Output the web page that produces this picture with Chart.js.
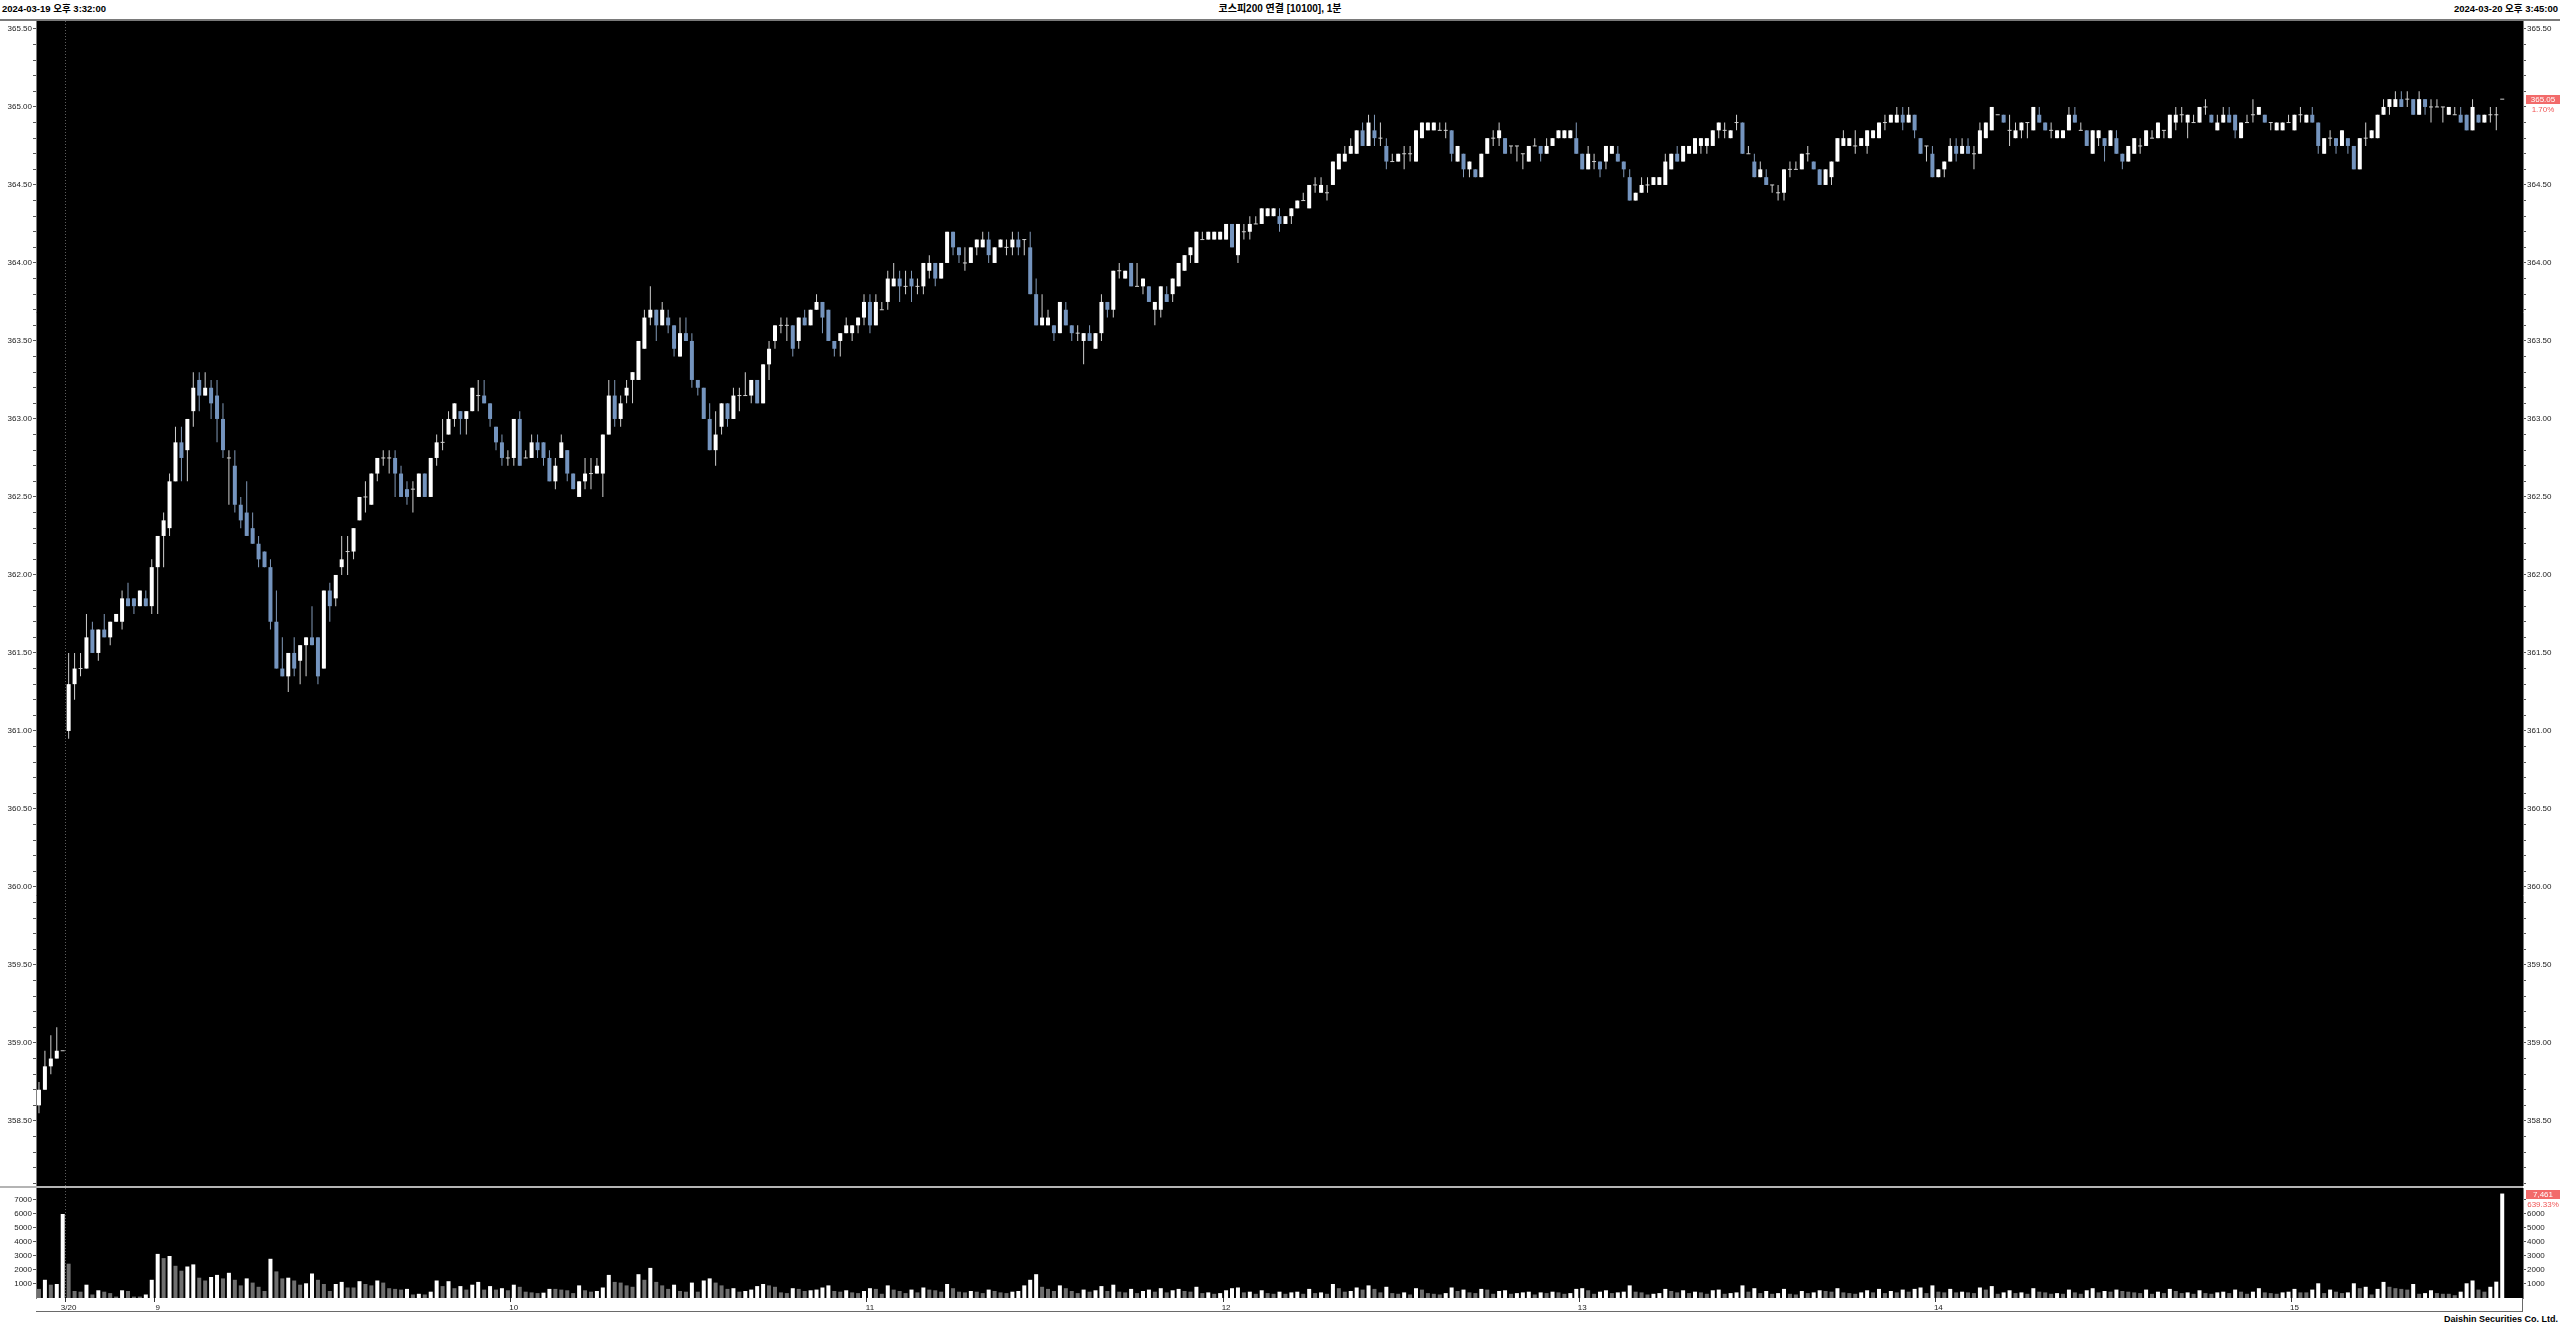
<!DOCTYPE html>
<html lang="ko">
<head>
<meta charset="utf-8">
<title>코스피200 연결 [10100], 1분</title>
<script src="https://cdn.jsdelivr.net/npm/chart.js@4.4.1/dist/chart.umd.min.js"></script>
<style>
    html, body {
        margin: 0;
        padding: 0;
        width: 2560px;
        height: 1328px;
        background: #ffffff;
        overflow: hidden;
        position: relative;
        font-family: "Liberation Sans", "Noto Sans CJK KR", sans-serif;
    }
    .hdr {
        position: absolute;
        top: 3px;
        font-weight: bold;
        font-size: 9.5px;
        line-height: 12px;
        color: #000;
        white-space: nowrap;
    }
    .hdr.left { left: 2px; }
    .hdr.center { left: 0; width: 2560px; text-align: center; font-size: 10px; }
    .hdr.right { right: 2px; }
    #top-line { position: absolute; left: 0; top: 19px; width: 2560px; height: 2px; background: #7a7a7a; }
    #price-chart { position: absolute; left: 0; top: 21px; }
    #pane-sep { position: absolute; left: 0; top: 1186px; width: 2523px; height: 2px; background: #b4b4b4; }
    #volume-chart { position: absolute; left: 0; top: 1188px; }
    #x-box { position: absolute; left: 36px; top: 1298px; width: 2486px; height: 13px;
             border-right: 1px solid #6a6a6a; border-bottom: 1px solid #6a6a6a; pointer-events: none; }
    #footer { position: absolute; right: 2px; top: 1314px; font-weight: bold; font-size: 9px;
              line-height: 11px; color: #000; }
</style>
</head>
<body>
<div class="hdr left">2024-03-19 오후 3:32:00</div>
<div class="hdr center">코스피200 연결 [10100], 1분</div>
<div class="hdr right">2024-03-20 오후 3:45:00</div>
<div id="top-line"></div>
<canvas id="price-chart" width="2560" height="1165"></canvas>
<div id="pane-sep"></div>
<canvas id="volume-chart" width="2560" height="123"></canvas>
<div id="x-box"></div>
<div id="footer">Daishin Securities Co. Ltd.</div>

<script>
// Bars of the previous session (3/19) shown before the 3/20 session
const prevDayTimes = ['3/19 15:31', '3/19 15:32', '3/19 15:33', '3/19 15:34', '3/19 15:45'];

// Hour marks on the time axis
const tickTimes = ['3/20 08:45', '3/20 09:00', '3/20 10:00', '3/20 11:00', '3/20 12:00', '3/20 13:00', '3/20 14:00', '3/20 15:00'];
const tickTexts = ['3/20', '9', '10', '11', '12', '13', '14', '15'];

// Value axis ticks
const volumeTicks = [1000, 2000, 3000, 4000, 5000, 6000, 7000];
const priceTickFirst = 358.1;
const priceTickLast = 365.5;

// 1-minute OHLC
const opens = [
    358.60, 358.70, 358.85, 358.90, 358.95, 361.00, 361.30, 361.40, 361.40, 361.65,
    361.50, 361.65, 361.60, 361.70, 361.70, 361.85, 361.85, 361.80, 361.85, 361.80,
    362.05, 362.25, 362.30, 362.60, 362.85, 362.80, 363.05, 363.25, 363.15, 363.20,
    363.15, 363.00, 362.75, 362.70, 362.45, 362.40, 362.30, 362.20, 362.15, 362.05,
    361.70, 361.40, 361.35, 361.50, 361.45, 361.55, 361.60, 361.60, 361.40, 361.90,
    361.85, 362.05, 362.15, 362.15, 362.35, 362.50, 362.45, 362.65, 362.75, 362.75,
    362.75, 362.65, 362.55, 362.55, 362.50, 362.65, 362.50, 362.75, 362.85, 362.90,
    363.00, 363.05, 363.00, 363.05, 363.15, 363.15, 363.10, 362.95, 362.85, 362.75,
    362.75, 363.00, 362.75, 362.75, 362.85, 362.85, 362.75, 362.60, 362.75, 362.80,
    362.65, 362.50, 362.60, 362.65, 362.65, 362.65, 362.90, 363.15, 363.00, 363.15,
    363.25, 363.25, 363.45, 363.65, 363.70, 363.60, 363.65, 363.60, 363.40, 363.55,
    363.50, 363.25, 363.20, 363.00, 362.80, 362.95, 363.10, 363.00, 363.15, 363.15,
    363.15, 363.25, 363.10, 363.35, 363.50, 363.60, 363.60, 363.60, 363.50, 363.65,
    363.60, 363.70, 363.75, 363.70, 363.50, 363.50, 363.55, 363.55, 363.60, 363.65,
    363.75, 363.60, 363.70, 363.75, 363.85, 363.90, 363.85, 363.90, 363.85, 363.85,
    363.95, 364.00, 363.90, 364.00, 364.20, 364.10, 364.00, 364.00, 364.10, 364.10,
    364.15, 364.00, 364.10, 364.10, 364.10, 364.15, 364.15, 364.10, 363.80, 363.60,
    363.60, 363.60, 363.55, 363.70, 363.60, 363.55, 363.50, 363.55, 363.45, 363.55,
    363.75, 363.70, 363.95, 363.90, 364.00, 363.85, 363.85, 363.85, 363.70, 363.70,
    363.80, 363.80, 363.85, 363.95, 364.05, 364.00, 364.15, 364.15, 364.15, 364.15,
    364.15, 364.25, 364.05, 364.20, 364.20, 364.25, 364.25, 364.30, 364.30, 364.30,
    364.25, 364.30, 364.35, 364.40, 364.35, 364.50, 364.45, 364.45, 364.50, 364.60,
    364.65, 364.70, 364.70, 364.85, 364.75, 364.85, 364.80, 364.75, 364.65, 364.65,
    364.70, 364.70, 364.65, 364.80, 364.85, 364.85, 364.85, 364.85, 364.85, 364.65,
    364.70, 364.60, 364.60, 364.55, 364.70, 364.80, 364.80, 364.80, 364.75, 364.75,
    364.70, 364.65, 364.75, 364.75, 364.70, 364.75, 364.80, 364.80, 364.80, 364.80,
    364.70, 364.60, 364.65, 364.65, 364.65, 364.70, 364.70, 364.65, 364.55, 364.40,
    364.45, 364.50, 364.50, 364.50, 364.50, 364.60, 364.70, 364.65, 364.70, 364.70,
    364.75, 364.75, 364.75, 364.85, 364.85, 364.80, 364.90, 364.90, 364.70, 364.65,
    364.55, 364.55, 364.50, 364.45, 364.45, 364.60, 364.60, 364.60, 364.70, 364.65,
    364.60, 364.50, 364.55, 364.65, 364.75, 364.75, 364.75, 364.75, 364.75, 364.80,
    364.80, 364.90, 364.90, 364.90, 364.95, 364.90, 364.95, 364.80, 364.75, 364.70,
    364.55, 364.60, 364.65, 364.75, 364.70, 364.75, 364.70, 364.70, 364.80, 364.85,
    364.95, 364.95, 364.85, 364.80, 364.85, 364.90, 364.85, 364.95, 364.90, 364.85,
    364.80, 364.80, 364.85, 364.95, 364.85, 364.85, 364.70, 364.80, 364.80, 364.75,
    364.80, 364.70, 364.65, 364.70, 364.75, 364.75, 364.80, 364.80, 364.85, 364.80,
    364.90, 364.95, 364.90, 364.90, 364.90, 365.00, 364.95, 364.85, 364.90, 364.95,
    364.95, 364.80, 364.90, 364.95, 364.95, 364.95, 364.90, 364.85, 364.85, 364.90,
    364.85, 364.95, 364.90, 364.95, 364.90, 364.70, 364.80, 364.80, 364.75, 364.80,
    364.75, 364.60, 364.80, 364.80, 364.80, 364.95, 365.00, 365.00, 365.05, 365.05,
    365.05, 364.95, 365.05, 365.00, 365.00, 365.00, 364.95, 364.95, 364.95, 364.95,
    364.85, 364.95, 364.90, 364.95, 364.95, 365.05
];
const highs = [
    358.75, 358.95, 359.05, 359.10, 358.95, 361.50, 361.50, 361.50, 361.75, 361.70,
    361.65, 361.75, 361.70, 361.75, 361.90, 361.95, 361.85, 361.90, 361.90, 362.10,
    362.25, 362.40, 362.65, 362.95, 362.95, 363.00, 363.30, 363.30, 363.30, 363.25,
    363.25, 363.10, 362.80, 362.80, 362.50, 362.60, 362.40, 362.25, 362.15, 362.10,
    361.90, 361.60, 361.50, 361.60, 361.55, 361.60, 361.80, 361.60, 361.90, 361.95,
    362.00, 362.25, 362.25, 362.30, 362.50, 362.60, 362.65, 362.75, 362.80, 362.80,
    362.80, 362.70, 362.60, 362.60, 362.65, 362.65, 362.75, 362.90, 363.00, 363.05,
    363.10, 363.05, 363.05, 363.20, 363.25, 363.25, 363.10, 362.95, 362.90, 362.80,
    363.00, 363.05, 362.80, 362.90, 362.90, 362.85, 362.80, 362.75, 362.90, 362.80,
    362.65, 362.60, 362.75, 362.75, 362.75, 362.90, 363.25, 363.25, 363.15, 363.25,
    363.30, 363.50, 363.70, 363.85, 363.70, 363.75, 363.70, 363.60, 363.65, 363.65,
    363.55, 363.25, 363.20, 363.10, 363.05, 363.10, 363.10, 363.20, 363.20, 363.30,
    363.25, 363.25, 363.35, 363.50, 363.60, 363.65, 363.65, 363.60, 363.65, 363.70,
    363.70, 363.80, 363.75, 363.70, 363.50, 363.55, 363.65, 363.60, 363.65, 363.80,
    363.80, 363.80, 363.75, 363.95, 364.00, 363.95, 363.95, 363.95, 363.90, 364.00,
    364.05, 364.00, 364.00, 364.20, 364.20, 364.10, 364.10, 364.10, 364.15, 364.20,
    364.20, 364.10, 364.15, 364.15, 364.20, 364.20, 364.15, 364.20, 363.90, 363.80,
    363.70, 363.60, 363.75, 363.75, 363.60, 363.60, 363.55, 363.60, 363.55, 363.80,
    363.75, 363.95, 364.00, 363.95, 364.00, 364.00, 363.90, 363.85, 363.75, 363.85,
    363.85, 363.90, 364.00, 364.05, 364.10, 364.20, 364.20, 364.20, 364.20, 364.20,
    364.25, 364.25, 364.25, 364.25, 364.30, 364.30, 364.35, 364.35, 364.35, 364.35,
    364.30, 364.35, 364.40, 364.45, 364.50, 364.55, 364.55, 364.50, 364.65, 364.70,
    364.75, 364.80, 364.85, 364.90, 364.95, 364.95, 364.90, 364.80, 364.70, 364.70,
    364.75, 364.75, 364.85, 364.90, 364.90, 364.90, 364.90, 364.90, 364.85, 364.75,
    364.70, 364.65, 364.60, 364.70, 364.80, 364.85, 364.90, 364.80, 364.75, 364.75,
    364.70, 364.75, 364.80, 364.75, 364.80, 364.80, 364.85, 364.85, 364.85, 364.90,
    364.70, 364.75, 364.70, 364.65, 364.75, 364.75, 364.75, 364.65, 364.60, 364.45,
    364.55, 364.55, 364.55, 364.55, 364.70, 364.70, 364.75, 364.75, 364.75, 364.80,
    364.80, 364.80, 364.85, 364.90, 364.90, 364.85, 364.95, 364.90, 364.75, 364.70,
    364.65, 364.60, 364.50, 364.50, 364.60, 364.65, 364.65, 364.70, 364.75, 364.65,
    364.60, 364.60, 364.65, 364.80, 364.85, 364.80, 364.85, 364.80, 364.85, 364.85,
    364.90, 364.95, 364.95, 365.00, 365.00, 365.00, 364.95, 364.80, 364.75, 364.75,
    364.60, 364.65, 364.80, 364.80, 364.80, 364.80, 364.75, 364.90, 364.90, 365.00,
    364.95, 364.95, 364.95, 364.90, 364.90, 364.90, 365.00, 365.00, 364.90, 364.90,
    364.85, 364.85, 365.00, 365.00, 364.90, 364.85, 364.85, 364.85, 364.80, 364.85,
    364.85, 364.70, 364.75, 364.80, 364.80, 364.85, 364.85, 364.90, 364.85, 364.95,
    365.00, 365.00, 364.95, 364.95, 365.00, 365.05, 364.95, 364.95, 365.00, 365.00,
    364.95, 364.90, 364.95, 365.05, 365.00, 364.95, 364.90, 364.90, 364.90, 364.95,
    364.95, 365.00, 364.95, 365.00, 364.90, 364.80, 364.85, 364.80, 364.85, 364.80,
    364.75, 364.80, 364.90, 364.85, 364.95, 365.05, 365.05, 365.10, 365.10, 365.10,
    365.05, 365.10, 365.05, 365.05, 365.05, 365.00, 365.00, 365.00, 365.00, 364.95,
    365.05, 364.95, 364.95, 365.00, 365.00, 365.05
];
const lows = [
    358.55, 358.70, 358.80, 358.90, 358.95, 360.95, 361.20, 361.35, 361.40, 361.50,
    361.45, 361.60, 361.55, 361.70, 361.65, 361.80, 361.75, 361.80, 361.80, 361.75,
    361.75, 362.05, 362.25, 362.60, 362.60, 362.60, 362.95, 363.05, 363.15, 363.00,
    362.85, 362.75, 362.45, 362.40, 362.30, 362.25, 362.20, 362.05, 362.05, 361.65,
    361.40, 361.35, 361.25, 361.35, 361.30, 361.35, 361.55, 361.30, 361.40, 361.70,
    361.80, 362.00, 362.00, 362.10, 362.35, 362.40, 362.45, 362.60, 362.70, 362.65,
    362.50, 362.50, 362.45, 362.40, 362.50, 362.50, 362.50, 362.70, 362.80, 362.90,
    362.95, 362.90, 362.90, 363.05, 363.05, 363.10, 362.95, 362.80, 362.70, 362.70,
    362.70, 362.70, 362.75, 362.75, 362.75, 362.70, 362.60, 362.55, 362.75, 362.60,
    362.55, 362.50, 362.55, 362.55, 362.65, 362.50, 362.90, 362.95, 362.95, 363.10,
    363.10, 363.25, 363.45, 363.60, 363.50, 363.60, 363.55, 363.40, 363.40, 363.50,
    363.20, 363.15, 363.00, 362.80, 362.70, 362.90, 362.95, 363.00, 363.05, 363.15,
    363.10, 363.10, 363.10, 363.25, 363.45, 363.55, 363.50, 363.40, 363.45, 363.60,
    363.60, 363.70, 363.55, 363.50, 363.40, 363.40, 363.55, 363.50, 363.55, 363.60,
    363.55, 363.60, 363.70, 363.70, 363.85, 363.75, 363.80, 363.75, 363.80, 363.80,
    363.90, 363.85, 363.90, 364.00, 364.05, 364.00, 363.95, 364.00, 364.05, 364.10,
    364.00, 364.00, 364.10, 364.05, 364.05, 364.05, 364.05, 363.80, 363.60, 363.60,
    363.60, 363.50, 363.55, 363.60, 363.50, 363.50, 363.35, 363.50, 363.45, 363.50,
    363.65, 363.65, 363.90, 363.90, 363.85, 363.85, 363.80, 363.75, 363.60, 363.65,
    363.75, 363.75, 363.85, 363.95, 364.00, 364.00, 364.15, 364.15, 364.15, 364.15,
    364.15, 364.10, 364.00, 364.15, 364.15, 364.25, 364.25, 364.30, 364.30, 364.20,
    364.25, 364.25, 364.35, 364.40, 364.35, 364.45, 364.45, 364.40, 364.50, 364.60,
    364.65, 364.70, 364.70, 364.75, 364.75, 364.75, 364.75, 364.60, 364.65, 364.65,
    364.60, 364.65, 364.65, 364.80, 364.85, 364.85, 364.85, 364.80, 364.65, 364.65,
    364.55, 364.55, 364.55, 364.55, 364.70, 364.75, 364.75, 364.70, 364.70, 364.65,
    364.60, 364.65, 364.75, 364.65, 364.70, 364.75, 364.80, 364.80, 364.80, 364.70,
    364.60, 364.60, 364.60, 364.55, 364.60, 364.70, 364.65, 364.55, 364.40, 364.40,
    364.45, 364.45, 364.50, 364.50, 364.50, 364.60, 364.65, 364.65, 364.70, 364.70,
    364.70, 364.70, 364.75, 364.80, 364.80, 364.80, 364.85, 364.70, 364.70, 364.55,
    364.55, 364.50, 364.45, 364.40, 364.40, 364.55, 364.60, 364.60, 364.65, 364.60,
    364.50, 364.50, 364.50, 364.65, 364.75, 364.75, 364.70, 364.75, 364.70, 364.80,
    364.80, 364.85, 364.90, 364.90, 364.85, 364.90, 364.80, 364.70, 364.65, 364.55,
    364.55, 364.55, 364.65, 364.65, 364.70, 364.70, 364.60, 364.70, 364.80, 364.85,
    364.95, 364.90, 364.75, 364.80, 364.80, 364.80, 364.85, 364.90, 364.85, 364.80,
    364.80, 364.80, 364.85, 364.90, 364.85, 364.75, 364.70, 364.75, 364.65, 364.75,
    364.70, 364.60, 364.65, 364.70, 364.70, 364.75, 364.80, 364.80, 364.80, 364.80,
    364.85, 364.90, 364.80, 364.90, 364.90, 364.95, 364.90, 364.85, 364.90, 364.90,
    364.80, 364.80, 364.90, 364.90, 364.95, 364.90, 364.85, 364.85, 364.85, 364.90,
    364.85, 364.90, 364.90, 364.90, 364.70, 364.70, 364.75, 364.70, 364.75, 364.70,
    364.60, 364.60, 364.75, 364.80, 364.80, 364.95, 364.95, 365.00, 365.00, 365.00,
    364.95, 364.95, 364.95, 364.90, 365.00, 364.90, 364.95, 364.95, 364.90, 364.85,
    364.85, 364.90, 364.90, 364.90, 364.85, 365.05
];
const closes = [
    358.70, 358.85, 358.90, 358.95, 358.95, 361.30, 361.40, 361.40, 361.60, 361.50,
    361.65, 361.60, 361.70, 361.75, 361.85, 361.80, 361.80, 361.90, 361.80, 362.05,
    362.25, 362.35, 362.60, 362.85, 362.75, 363.00, 363.20, 363.15, 363.20, 363.10,
    363.00, 362.80, 362.75, 362.45, 362.35, 362.25, 362.20, 362.10, 362.05, 361.70,
    361.40, 361.35, 361.50, 361.40, 361.55, 361.60, 361.55, 361.35, 361.90, 361.80,
    362.00, 362.10, 362.15, 362.30, 362.50, 362.50, 362.65, 362.75, 362.75, 362.75,
    362.65, 362.50, 362.50, 362.55, 362.65, 362.50, 362.75, 362.85, 362.85, 363.00,
    363.10, 363.00, 363.05, 363.20, 363.15, 363.10, 363.00, 362.85, 362.75, 362.75,
    363.00, 362.70, 362.75, 362.85, 362.80, 362.75, 362.60, 362.70, 362.85, 362.65,
    362.55, 362.60, 362.65, 362.65, 362.70, 362.90, 363.15, 363.00, 363.10, 363.20,
    363.30, 363.50, 363.65, 363.70, 363.60, 363.70, 363.60, 363.45, 363.55, 363.50,
    363.25, 363.20, 363.00, 362.80, 362.90, 363.10, 363.00, 363.15, 363.15, 363.15,
    363.25, 363.10, 363.35, 363.45, 363.60, 363.60, 363.60, 363.45, 363.65, 363.60,
    363.70, 363.75, 363.65, 363.50, 363.45, 363.55, 363.60, 363.60, 363.65, 363.75,
    363.60, 363.75, 363.70, 363.90, 363.90, 363.85, 363.85, 363.85, 363.85, 364.00,
    364.00, 363.90, 364.00, 364.20, 364.10, 364.05, 364.00, 364.10, 364.15, 364.15,
    364.05, 364.10, 364.15, 364.10, 364.15, 364.10, 364.15, 363.80, 363.60, 363.65,
    363.65, 363.55, 363.75, 363.60, 363.55, 363.55, 363.55, 363.50, 363.55, 363.75,
    363.70, 363.95, 363.95, 363.95, 363.85, 363.85, 363.90, 363.75, 363.75, 363.85,
    363.75, 363.90, 364.00, 364.05, 364.10, 364.20, 364.15, 364.20, 364.20, 364.20,
    364.25, 364.10, 364.25, 364.20, 364.25, 364.25, 364.35, 364.35, 364.35, 364.25,
    364.30, 364.35, 364.40, 364.40, 364.50, 364.50, 364.50, 364.45, 364.65, 364.70,
    364.70, 364.75, 364.85, 364.75, 364.90, 364.80, 364.80, 364.65, 364.65, 364.70,
    364.70, 364.70, 364.85, 364.90, 364.90, 364.90, 364.85, 364.85, 364.70, 364.75,
    364.60, 364.65, 364.55, 364.70, 364.80, 364.80, 364.85, 364.70, 364.75, 364.75,
    364.70, 364.75, 364.75, 364.70, 364.75, 364.80, 364.85, 364.85, 364.85, 364.70,
    364.60, 364.70, 364.65, 364.60, 364.75, 364.75, 364.65, 364.60, 364.40, 364.45,
    364.50, 364.50, 364.55, 364.55, 364.65, 364.70, 364.65, 364.75, 364.75, 364.80,
    364.80, 364.80, 364.85, 364.90, 364.85, 364.85, 364.90, 364.70, 364.70, 364.55,
    364.60, 364.50, 364.50, 364.45, 364.60, 364.60, 364.60, 364.70, 364.70, 364.60,
    364.50, 364.60, 364.65, 364.80, 364.80, 364.80, 364.75, 364.80, 364.85, 364.85,
    364.90, 364.90, 364.95, 364.95, 364.90, 364.95, 364.85, 364.70, 364.75, 364.55,
    364.60, 364.65, 364.75, 364.70, 364.75, 364.70, 364.70, 364.85, 364.90, 365.00,
    364.95, 364.90, 364.85, 364.85, 364.90, 364.90, 365.00, 364.90, 364.85, 364.85,
    364.85, 364.85, 364.95, 364.90, 364.85, 364.75, 364.85, 364.85, 364.75, 364.85,
    364.70, 364.65, 364.75, 364.80, 364.75, 364.85, 364.80, 364.90, 364.85, 364.95,
    364.95, 364.95, 364.95, 364.90, 365.00, 365.00, 364.90, 364.90, 364.95, 364.90,
    364.85, 364.90, 364.90, 364.95, 365.00, 364.90, 364.90, 364.90, 364.90, 364.90,
    364.95, 364.95, 364.95, 364.90, 364.75, 364.80, 364.80, 364.75, 364.85, 364.75,
    364.60, 364.80, 364.80, 364.85, 364.95, 365.00, 365.05, 365.05, 365.00, 365.05,
    364.95, 365.05, 365.00, 365.00, 365.00, 365.00, 365.00, 364.95, 364.90, 364.85,
    365.00, 364.90, 364.95, 364.95, 364.95, 365.05
];

// Traded contracts per bar
const volumes = [
    650, 1300, 950, 1000, 6000, 2450, 500, 450, 950, 250,
    550, 450, 350, 100, 550, 500, 100, 100, 250, 1300,
    3150, 2850, 3000, 2300, 1950, 2250, 2400, 1450, 1250, 1500,
    1650, 1400, 1800, 1300, 900, 1400, 1100, 800, 500, 2800,
    1900, 1400, 1450, 1250, 950, 1050, 1750, 1300, 1000, 500,
    1000, 1150, 750, 750, 1200, 1000, 900, 1250, 1100, 700,
    650, 600, 650, 250, 300, 250, 450, 1250, 850, 1200,
    700, 850, 600, 950, 1150, 600, 850, 600, 700, 550,
    950, 800, 450, 400, 350, 380, 650, 650, 600, 550,
    350, 900, 550, 450, 500, 750, 1650, 1150, 1100, 900,
    800, 1700, 1300, 2150, 1150, 900, 650, 950, 500, 450,
    1100, 450, 1250, 1400, 1100, 900, 650, 700, 450, 500,
    600, 850, 1000, 900, 800, 400, 350, 700, 650, 500,
    550, 600, 750, 900, 500, 450, 550, 400, 350, 500,
    700, 650, 300, 900, 600, 500, 350, 600, 400, 750,
    600, 550, 450, 1000, 700, 450, 400, 500, 450, 350,
    600, 500, 400, 350, 450, 500, 900, 1300, 1700, 800,
    650, 500, 900, 700, 500, 350, 600, 450, 550, 850,
    500, 950, 450, 400, 650, 350, 500, 600, 450, 700,
    400, 550, 650, 500, 450, 800, 350, 400, 300, 350,
    550, 700, 750, 400, 450, 300, 550, 350, 300, 450,
    300, 400, 450, 300, 650, 350, 400, 300, 1000, 700,
    450, 500, 750, 600, 900, 650, 400, 800, 350, 300,
    400, 250, 700, 600, 350, 300, 250, 350, 750, 500,
    600, 400, 350, 650, 600, 300, 500, 550, 300, 350,
    400, 450, 250, 400, 350, 450, 400, 300, 350, 650,
    700, 550, 300, 450, 550, 350, 400, 450, 900, 450,
    400, 250, 300, 350, 650, 500, 400, 550, 350, 450,
    400, 300, 550, 600, 300, 350, 400, 900, 450, 700,
    350, 500, 300, 350, 650, 300, 250, 500, 350, 400,
    550, 500, 450, 700, 400, 350, 300, 400, 550, 400,
    650, 350, 500, 400, 600, 450, 650, 750, 350, 900,
    450, 400, 650, 400, 450, 400, 350, 750, 600, 850,
    300, 400, 550, 350, 400, 300, 700, 450, 400, 300,
    350, 300, 600, 400, 300, 550, 700, 400, 500, 450,
    600, 500, 450, 400, 350, 600, 300, 450, 350, 650,
    500, 350, 400, 300, 550, 350, 300, 400, 450, 350,
    600, 450, 300, 450, 700, 400, 350, 300, 400, 450,
    650, 400, 400, 600, 1050, 350, 600, 450, 350, 400,
    1050, 700, 800, 250, 650, 1150, 800, 700, 650, 600,
    1000, 300, 350, 550, 350, 300, 300, 200, 450, 1050,
    1250, 600, 450, 800, 1167, 7461
];

// Layout of the two panes (pixels), measured on the picture
const LEFT_AXIS_W = 36;
const RIGHT_AXIS_W = 37;
const EMPTY_SLOTS_RIGHT = 3;
const PRICE_MIN = 358.083;
const PRICE_MAX = 365.551;
const VOLUME_MAX = 7857;
const DOJI_HALF = 0.0032;

const AXIS_FONT = { family: '"Liberation Sans", Arial, sans-serif', size: 8 };
const COLORS = {
    up: '#ffffff',
    down: '#7494be',
    flat: '#d2d2d2',
    wickUp: '#cfcfcf',
    wickDown: '#8199b8',
    volUp: '#ffffff',
    volDown: '#6f6f6f',
    tag: '#f26a6a',
    tagText: '#f05555',
    axisText: '#222222',
    daySep: '#5c5c5c'
};

// Time labels: previous-day bars, then every minute of the 3/20 session up to 15:34, then the 15:45 close
function buildTimeLabels() {
    const pad = n => String(n).padStart(2, '0');
    const out = prevDayTimes.slice();
    for (let m = 8 * 60 + 45; m <= 15 * 60 + 34; m++) {
        out.push('3/20 ' + pad(Math.floor(m / 60)) + ':' + pad(m % 60));
    }
    out.push('3/20 15:45');
    return out;
}

// Price axis: a tick every 0.10, a label every 0.50
function buildPriceTicks() {
    const out = [];
    for (let k = Math.round(priceTickFirst * 10); k <= Math.round(priceTickLast * 10); k++) out.push(k / 10);
    return out;
}

const timeLabels = buildTimeLabels();
const categoryLabels = timeLabels.concat(new Array(EMPTY_SLOTS_RIGHT).fill(''));
const priceTicks = buildPriceTicks();

const tickIndex = {};
tickTimes.forEach((t, i) => { tickIndex[timeLabels.indexOf(t)] = tickTexts[i]; });
const dayStartIndex = timeLabels.indexOf(tickTimes[0]);

// Candle pieces as floating bars
const bodyRanges = opens.map((o, i) => {
    const c = closes[i];
    return o === c ? [o - DOJI_HALF, o + DOJI_HALF] : [Math.min(o, c), Math.max(o, c)];
});
const wickRanges = opens.map((o, i) => [Math.min(lows[i], o, closes[i]), Math.max(highs[i], o, closes[i])]);

function pick(i, up, down, flat) {
    if (closes[i] > opens[i]) return up;
    if (closes[i] < opens[i]) return down;
    return flat;
}
const bodyColors = opens.map((o, i) => pick(i, COLORS.up, COLORS.down, COLORS.flat));
const wickColors = opens.map((o, i) => pick(i, COLORS.wickUp, COLORS.wickDown, COLORS.flat));
// volume bar is white when it is larger than the bar before it
const volumeColors = volumes.map((v, i) => (i > 0 && v > volumes[i - 1]) ? COLORS.volUp : COLORS.volDown);

const isStep = (v, step) => Math.abs(v / step - Math.round(v / step)) < 1e-6;

// Black pane background
const paneBackground = {
    id: 'paneBackground',
    beforeDraw(chart) {
        const { ctx, chartArea: a } = chart;
        ctx.save();
        ctx.fillStyle = '#000000';
        ctx.fillRect(a.left, a.top, a.right - a.left, a.bottom - a.top);
        ctx.restore();
    }
};

// Red tag with the latest value on the right axis, change text underneath
const valueTag = {
    id: 'valueTag',
    afterDraw(chart, args, opts) {
        const { ctx, chartArea } = chart;
        const y = Math.round(chart.scales[opts.axis].getPixelForValue(opts.value));
        const x0 = chartArea.right + 3;
        const cx = (x0 + chart.width) / 2;
        ctx.save();
        ctx.fillStyle = '#ffffff';
        ctx.fillRect(x0, y + 5, chart.width - x0, 10);
        ctx.fillStyle = COLORS.tag;
        ctx.fillRect(x0, y - 4, chart.width - x0, 9);
        ctx.font = '8px "Liberation Sans", Arial, sans-serif';
        ctx.textAlign = 'center';
        ctx.textBaseline = 'middle';
        ctx.fillStyle = '#ffffff';
        ctx.fillText(opts.text, cx, y + 0.5);
        ctx.fillStyle = COLORS.tagText;
        ctx.fillText(opts.sub, cx, y + 10.5);
        ctx.restore();
    }
};

function timeAxis(showLabels) {
    return {
        type: 'category',
        offset: true,
        grid: {
            offset: true,
            drawOnChartArea: true,
            lineWidth: 1,
            color: ctx => ctx.index === dayStartIndex ? COLORS.daySep : 'rgba(0,0,0,0)',
            drawTicks: showLabels,
            tickLength: 4,
            tickColor: ctx => (ctx.index in tickIndex) ? '#333333' : 'rgba(0,0,0,0)'
        },
        border: { display: false, dash: [1, 2] },
        ticks: {
            display: showLabels,
            autoSkip: false,
            maxRotation: 0,
            minRotation: 0,
            padding: 1,
            color: COLORS.axisText,
            font: AXIS_FONT,
            callback: (value, index) => tickIndex[index] || ''
        },
        afterFit: scale => {
            scale.height = showLabels ? 13 : 0;
            scale.paddingLeft = 0;
            scale.paddingRight = 0;
        }
    };
}

function valueAxis(position, min, max, tickValues, labelStep, format) {
    return {
        type: 'linear',
        position: position,
        min: min,
        max: max,
        beginAtZero: false,
        afterBuildTicks: scale => {
            scale.ticks = tickValues.map(v => ({ value: v }));
        },
        ticks: {
            autoSkip: false,
            padding: 1,
            color: COLORS.axisText,
            font: AXIS_FONT,
            callback: v => isStep(v, labelStep) ? format(v) : ''
        },
        grid: { drawOnChartArea: false, drawTicks: true, tickLength: 3, tickColor: '#555555' },
        border: { display: true, color: '#7c7c7c' },
        afterFit: scale => {
            scale.width = position === 'left' ? LEFT_AXIS_W : RIGHT_AXIS_W;
            scale.paddingTop = 0;
            scale.paddingBottom = 0;
        }
    };
}

const priceFormat = v => v.toFixed(2);
const volumeFormat = v => String(Math.round(v));

const lastIdx = closes.length - 1;
const prevDayClose = closes[prevDayTimes.length - 1];

const priceChart = new Chart(document.getElementById('price-chart'), {
    type: 'bar',
    data: {
        labels: categoryLabels,
        datasets: [
            {
                label: 'wick',
                data: wickRanges,
                backgroundColor: wickColors,
                barThickness: 1,
                inflateAmount: 0,
                borderWidth: 0,
                grouped: false,
                yAxisID: 'y',
                order: 2
            },
            {
                label: 'body',
                data: bodyRanges,
                backgroundColor: bodyColors,
                barThickness: 4,
                inflateAmount: 0,
                borderWidth: 0,
                grouped: false,
                yAxisID: 'y',
                order: 1
            }
        ]
    },
    options: {
        responsive: false,
        animation: false,
        events: [],
        layout: { padding: 0 },
        plugins: {
            legend: { display: false },
            tooltip: { enabled: false },
            valueTag: {
                axis: 'y',
                value: closes[lastIdx],
                text: closes[lastIdx].toFixed(2),
                sub: ((closes[lastIdx] / prevDayClose - 1) * 100).toFixed(2) + '%'
            }
        },
        scales: {
            x: timeAxis(false),
            y: valueAxis('right', PRICE_MIN, PRICE_MAX, priceTicks, 0.5, priceFormat),
            yLeft: valueAxis('left', PRICE_MIN, PRICE_MAX, priceTicks, 0.5, priceFormat)
        }
    },
    plugins: [paneBackground, valueTag]
});

const volumeChart = new Chart(document.getElementById('volume-chart'), {
    type: 'bar',
    data: {
        labels: categoryLabels,
        datasets: [{
            label: 'volume',
            data: volumes,
            backgroundColor: volumeColors,
            barThickness: 4,
            inflateAmount: 0,
            borderWidth: 0,
            yAxisID: 'y'
        }]
    },
    options: {
        responsive: false,
        animation: false,
        events: [],
        layout: { padding: 0 },
        plugins: {
            legend: { display: false },
            tooltip: { enabled: false },
            valueTag: {
                axis: 'y',
                value: volumes[lastIdx],
                text: volumes[lastIdx].toLocaleString('en-US'),
                sub: (volumes[lastIdx] / volumes[lastIdx - 1] * 100).toFixed(2) + '%'
            }
        },
        scales: {
            x: timeAxis(true),
            y: valueAxis('right', 0, VOLUME_MAX, volumeTicks, 1000, volumeFormat),
            yLeft: valueAxis('left', 0, VOLUME_MAX, volumeTicks, 1000, volumeFormat)
        }
    },
    plugins: [paneBackground, valueTag]
});
</script>
</body>
</html>
